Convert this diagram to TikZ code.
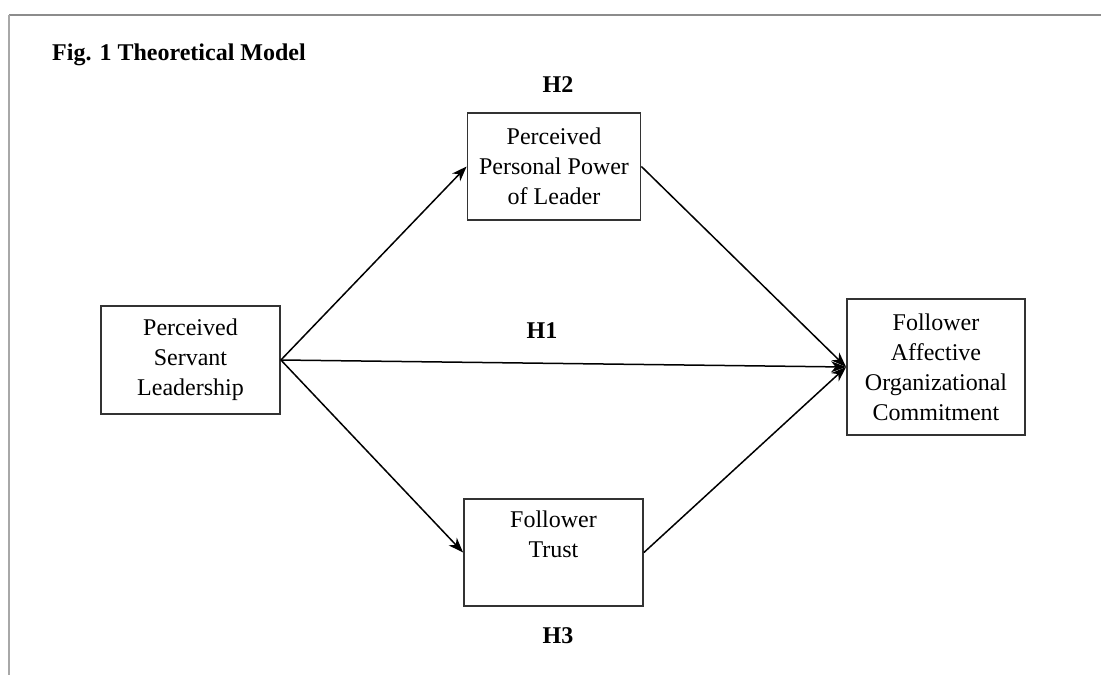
\documentclass[tikz,border=0pt]{standalone}
\usepackage{fontspec}
\setmainfont{Liberation Serif}
\usetikzlibrary{arrows.meta}
\definecolor{frameA}{HTML}{8C8C8C}
\definecolor{frameB}{HTML}{A8A8A8}
\definecolor{boxline}{HTML}{333333}
\tikzset{
  boxnode/.style={draw=boxline, line width=1.8pt, rectangle, align=center, inner sep=0pt,
    font=\fontsize{24}{30}\selectfont, text=black},
  lbl/.style={font=\bfseries\fontsize{24}{30}\selectfont, inner sep=0pt, anchor=base},
  conn/.style={line width=1.5pt, -{Stealth[length=15pt,width=11pt,inset=4.5pt]}}
}
\begin{document}
\begin{tikzpicture}[x=1pt,y=-1pt]
\useasboundingbox (0,0) rectangle (1101,675);
% frame
\draw[frameA, line width=2.5pt] (9,15) -- (1101,15);
\draw[frameB, line width=2pt] (9,15) -- (9,675);
% title
\node[lbl, anchor=base west] (title) at (52,60) {Fig. 1 Theoretical Model};
% boxes
\node[boxnode, minimum width=179pt, minimum height=108pt] (psl) at (190.5,360) {Perceived\\Servant\\Leadership};
\node[boxnode, minimum width=173pt, minimum height=107pt] (pppl) at (554,166.5) {Perceived\\Personal Power\\of Leader};
\node[boxnode, minimum width=178pt, minimum height=136pt] (faoc) at (936,367) {Follower\\Affective\\Organizational\\Commitment};
\node[boxnode, minimum width=179pt, minimum height=107pt] (ft) at (553.5,552.5) {};
\node[font=\fontsize{24}{30}\selectfont, align=center, anchor=base, inner sep=0pt] (ftlabel) at (553.5,557) {Follower\\Trust};
% labels
\node[lbl] (h2) at (558,92) {H2};
\node[lbl] (h1) at (542,338) {H1};
\node[lbl] (h3) at (558,643) {H3};
% connectors
\draw[conn] (psl.east) -- (pppl.west);
\draw[conn] (psl.east) -- (faoc.west);
\draw[conn] (psl.east) -- (ft.west);
\draw[conn] (pppl.east) -- (faoc.west);
\draw[conn] (ft.east) -- (faoc.west);
\end{tikzpicture}
\end{document}
